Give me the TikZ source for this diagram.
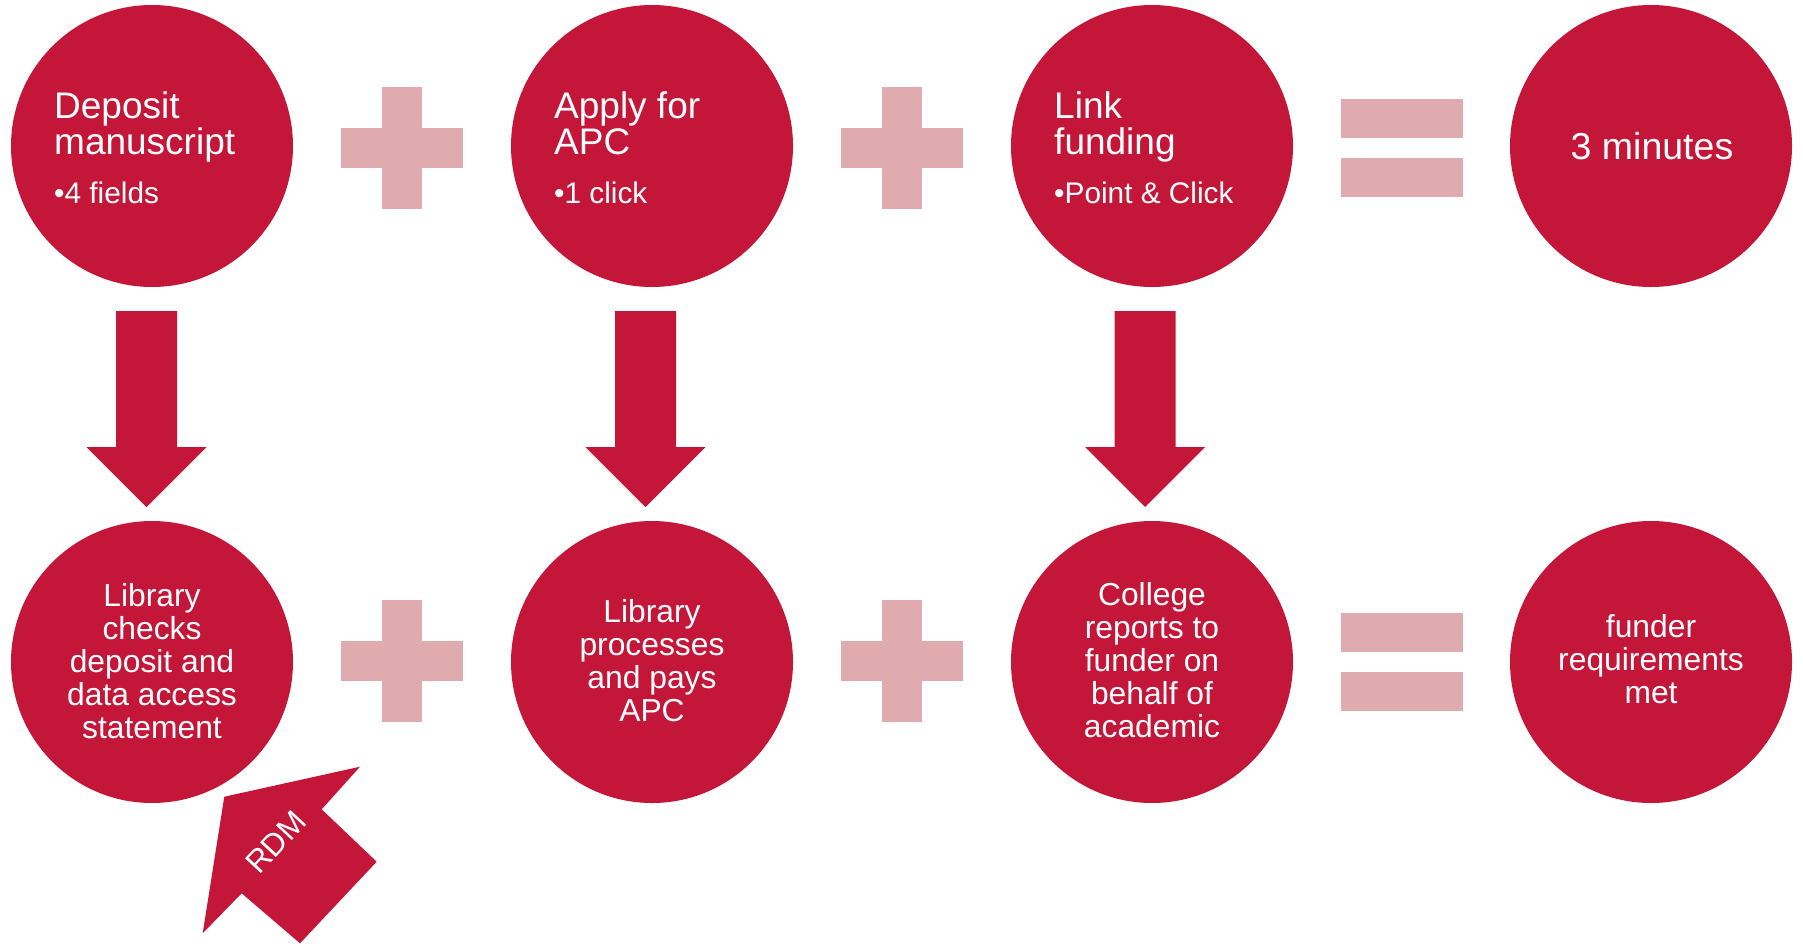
\documentclass[tikz,border=0pt]{standalone}
\usepackage{fontspec}
\setmainfont{Liberation Sans}
\definecolor{cred}{RGB}{196,22,57}
\definecolor{cpink}{RGB}{224,171,175}
\newcommand\clines[1]{\vtop{\baselineskip=33pt\lineskiplimit=-1000pt\lineskip=0pt\halign{\hfil##\hfil\cr#1\crcr}}}
\newcommand\toptext[3]{\vtop{\lineskiplimit=-1000pt\lineskip=0pt\baselineskip=36.5pt
  \hbox{\fontsize{37}{36}\selectfont #1}\hbox{\fontsize{37}{36}\selectfont #2}\vskip 12.5pt
  \hbox{\fontsize{29.8}{35}\selectfont #3}}}
\begin{document}
\begin{tikzpicture}[x=1pt,y=-1pt,
  bubble/.style={circle, fill=cred, draw=none, minimum size=282pt, inner sep=0pt},
  txt/.style={text=white, inner sep=0pt, anchor=base},
  bottxt/.style={txt, font=\fontsize{31.8}{33}\selectfont},
  plussign/.pic={\fill[cpink] (-61,-20) rectangle (61,20); \fill[cpink] (-20,-61) rectangle (20,61);},
  eqsign/.pic={\fill[cpink] (-61,-49) rectangle (61,-10); \fill[cpink] (-61,10) rectangle (61,49);},
  blockdown/.pic={\fill[cred] (-30.5,0) -- (30.5,0) -- (30.5,136) -- (60,136) -- (0,196) -- (-60,136) -- (-30.5,136) -- cycle;}
]
\useasboundingbox (0,0) rectangle (1803,943);

% top row
\node[bubble] (c1) at (152,146) {};
\node[bubble] (c2) at (652,146) {};
\node[bubble] (c3) at (1152,146) {};
\node[bubble] (c4) at (1651,146) {};
% bottom row
\node[bubble] (d1) at (152,662) {};
\node[bubble] (d2) at (652,662) {};
\node[bubble] (d3) at (1152,662) {};
\node[bubble] (d4) at (1651,662) {};

% operators
\pic at (402,148) {plussign};
\pic at (902,148) {plussign};
\pic at (402,661) {plussign};
\pic at (902,661) {plussign};
\pic at (1402,148) {eqsign};
\pic at (1402,662) {eqsign};

% down arrows
\pic at (146.5,311) {blockdown};
\pic at (645.5,311) {blockdown};
\pic at (1145,311) {blockdown};

% RDM arrow
\fill[cred] (224.3,796.7) -- (360,766.7) -- (321.7,809.3) -- (376.7,861.7) -- (300,943.3) -- (241.7,893.3) -- (202.7,933.3) -- cycle;
\node[text=white, inner sep=0pt, rotate=47, font=\fontsize{31.5}{31}\selectfont] (rdm) at (276,842) {RDM};

% top texts
\node[txt, anchor=base west] (t1) at (54,118) {\toptext{Deposit}{manuscript}{•4 fields}};
\node[txt, anchor=base west] (t2) at (554,118) {\toptext{Apply for}{APC}{•1 click}};
\node[txt, anchor=base west] (t3) at (1054,118) {\toptext{Link}{funding}{•Point \& Click}};
\node[txt, font=\fontsize{37.5}{37}\selectfont] (t4) at (1652,159) {3 minutes};

% bottom texts
\node[bottxt] (b1) at (152,606) {\clines{Library\cr checks\cr deposit and\cr data access\cr statement}};
\node[bottxt] (b2) at (652,622.5) {\clines{Library\cr processes\cr and pays\cr APC}};
\node[bottxt] (b3) at (1152,605) {\clines{College\cr reports to\cr funder on\cr behalf of\cr academic}};
\node[bottxt] (b4) at (1651,637) {\clines{funder\cr requirements\cr met}};
\end{tikzpicture}
\end{document}
